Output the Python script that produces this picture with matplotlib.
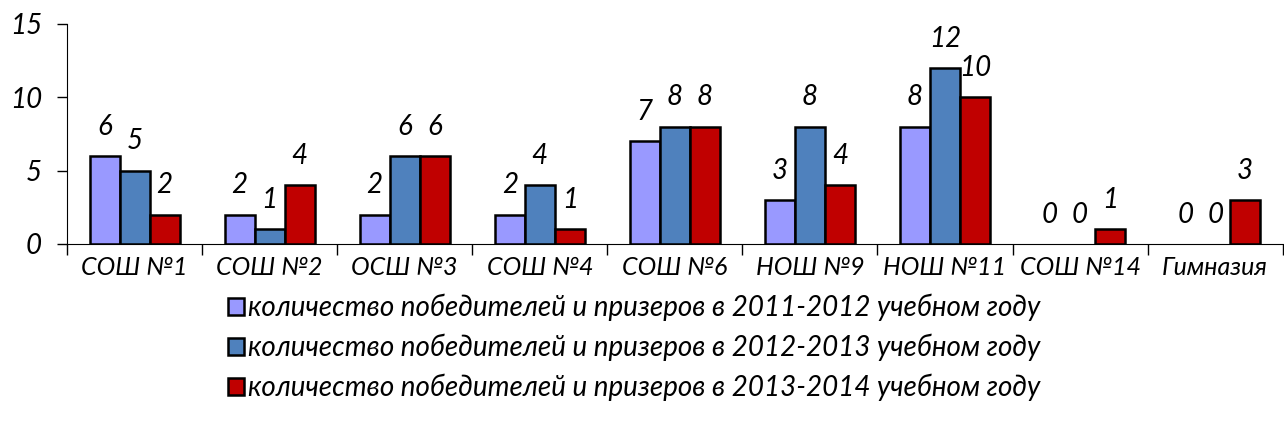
import numpy as np
import matplotlib
matplotlib.use('Agg')
import matplotlib.pyplot as plt
from matplotlib.patches import Patch

schools = ['СОШ №1', 'СОШ №2', 'ОСШ №3', 'СОШ №4', 'СОШ №6', 'НОШ №9', 'НОШ №11', 'СОШ №14', 'Гимназия']
winners_2011 = [6, 2, 2, 2, 7, 3, 8, 0, 0]
winners_2012 = [5, 1, 6, 4, 8, 8, 12, 0, 0]
winners_2013 = [2, 4, 6, 1, 8, 4, 10, 1, 3]
series_labels = ['количество победителей и призеров в 2011-2012 учебном году',
                 'количество победителей и призеров в 2012-2013 учебном году',
                 'количество победителей и призеров в 2013-2014 учебном году']
colors = ['#9999FF', '#4F81BD', '#C00000']

plt.rcParams['font.family'] = ['Lato', 'Noto Sans', 'DejaVu Sans']
plt.rcParams['font.style'] = 'italic'
fs = 20

fig = plt.figure(figsize=(12.84, 4.30), dpi=100)
ax = fig.add_axes([0.0522, 0.4326, 0.9468, 0.5116])

x = np.arange(len(schools))
width = 0.222
for i, (vals, col) in enumerate(zip([winners_2011, winners_2012, winners_2013], colors)):
    pos = x + (i - 1) * width
    # zero-height bars are left without an outline
    edges = ['black' if v > 0 else 'none' for v in vals]
    ax.bar(pos, vals, width, color=col, edgecolor=edges, linewidth=1.8)
    for p, v in zip(pos, vals):
        ax.annotate(str(v), (p, v), xytext=(0, 21), textcoords='offset points',
                    ha='center', va='center', fontsize=fs, style='italic')

ax.set_xlim(-0.5, len(schools) - 0.5)
ax.set_ylim(0, 15)
ax.set_yticks([0, 5, 10, 15])
ax.tick_params(axis='y', length=7, width=1, labelsize=fs, pad=11)
ax.set_xticks(np.arange(len(schools) + 1) - 0.5)
ax.set_xticklabels([])
ax.set_xticks(x, minor=True)
ax.set_xticklabels(schools, minor=True, fontsize=18, style='italic')
ax.tick_params(axis='x', which='major', length=8, width=1)
ax.tick_params(axis='x', which='minor', length=0, pad=9)
for lab in ax.get_yticklabels():
    lab.set_style('italic')
ax.spines['top'].set_visible(False)
ax.spines['right'].set_visible(False)

handles = [Patch(facecolor=c, edgecolor='black', linewidth=1.8) for c in colors]
fig.legend(handles, series_labels, loc='upper left', bbox_to_anchor=(0.167, 0.349),
           frameon=False, fontsize=fs, handlelength=0.55, handleheight=0.55,
           handletextpad=0.15, labelspacing=0.45, borderpad=0)

fig.savefig('out.png', dpi=100)
